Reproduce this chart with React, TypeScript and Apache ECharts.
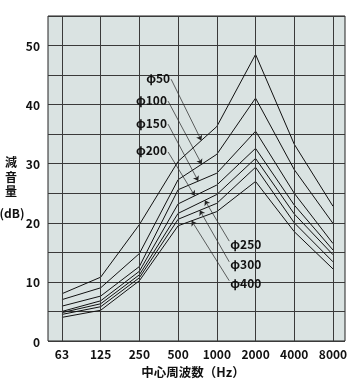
import React, { useEffect, useRef } from 'react';
import * as echarts from 'echarts';

const FREQS = ['63', '125', '250', '500', '1000', '2000', '4000', '8000'];
const DIAMETERS = ['φ50', 'φ100', 'φ150', 'φ200', 'φ250', 'φ300', 'φ400'];
const PHI50 = [8.0, 10.8, 19.7, 30.4, 36.3, 48.5, 33.3, 22.8];
const PHI100 = [7.0, 9.0, 14.8, 27.3, 31.6, 41.1, 29.0, 19.9];
const PHI150 = [5.9, 7.6, 12.6, 25.6, 28.4, 35.5, 25.0, 16.5];
const PHI200 = [5.0, 6.8, 11.8, 23.2, 26.4, 32.6, 23.0, 15.4];
const PHI250 = [4.8, 6.3, 11.2, 21.6, 24.8, 30.9, 21.5, 14.6];
const PHI300 = [4.5, 5.8, 10.7, 20.6, 23.3, 29.4, 20.0, 13.4];
const PHI400 = [4.0, 5.2, 10.2, 19.5, 21.9, 27.0, 18.5, 12.2];
const SERIES_VALUES = [PHI50, PHI100, PHI150, PHI200, PHI250, PHI300, PHI400];

// annotation leaders: start point (frequency index, dB) and target frequency index on the curve
const LEADER_START_X = [2.82, 2.74, 2.74, 2.74, 4.32, 4.32, 4.32];
const LEADER_START_Y = [44.3, 40.6, 36.7, 32.0, 16.9, 13.4, 10.2];
const LEADER_TARGET_X = [3.6, 3.61, 3.52, 3.43, 3.69, 3.56, 3.35];
const LABEL_SIDE = ['left', 'left', 'left', 'left', 'right', 'right', 'right'];

const Y_NAME_CHARS = ['減', '音', '量'];
const FONT = '"Noto Sans CJK JP", "Noto Sans", sans-serif';
const NAME_FONT = '"DejaVu Sans", "Noto Sans CJK JP", sans-serif';

function interp(values: number[], x: number): number {
  const i = Math.floor(x);
  const f = x - i;
  return values[i] + (values[i + 1] - values[i]) * f;
}

export default function App() {
  const ref = useRef<HTMLDivElement>(null);
  useEffect(() => {
    if (!ref.current) return;
    const chart = echarts.init(ref.current, null, { renderer: 'svg' });
    const series: any[] = SERIES_VALUES.map((vals, i) => ({
      type: 'line',
      name: DIAMETERS[i],
      data: vals.map((v, j) => [j, v]),
      symbol: 'none',
      lineStyle: { color: '#111', width: 1 },
      z: 3,
      markLine: {
        silent: true,
        symbol: ['none', 'arrow'],
        symbolSize: 5,
        label: { show: false },
        lineStyle: { color: '#222', width: 0.7, type: 'solid' },
        data: [
          [
            { coord: [LEADER_START_X[i], LEADER_START_Y[i]] },
            { coord: [LEADER_TARGET_X[i], interp(vals, LEADER_TARGET_X[i])] },
          ],
        ],
      },
    }));
    series.push({
      type: 'line',
      data: [],
      z: 1,
      markLine: {
        silent: true,
        symbol: 'none',
        label: { show: false },
        lineStyle: { color: '#3a3a3a', width: 1, type: 'solid' },
        data: FREQS.map((_, i) => ({ xAxis: i })),
      },
    });
    const option: any = {
      animation: false,
      grid: {
        left: 48, top: 16, right: 13, bottom: 39, show: true,
        backgroundColor: '#dae3e2', borderColor: '#222', borderWidth: 1,
      },
      xAxis: {
        type: 'value', min: -0.36, max: 7.31,
        axisLine: { show: false }, axisTick: { show: false }, splitLine: { show: false },
        axisLabel: {
          customValues: FREQS.map((_, i) => i),
          formatter: (v: number) => FREQS[Math.round(v)] ?? '',
          color: '#111', fontSize: 12, fontWeight: 'bold', fontFamily: FONT, margin: 6,
        },
      },
      yAxis: {
        type: 'value', min: 0, max: 55, interval: 5,
        axisLine: { show: false }, axisTick: { show: false },
        splitLine: { lineStyle: { color: '#3a3a3a', width: 1 } },
        axisLabel: {
          formatter: (v: number) => (v % 10 === 0 ? String(v) : ''),
          color: '#111', fontSize: 12, fontWeight: 'bold', fontFamily: FONT, margin: 8,
        },
      },
      series,
    };
    chart.setOption(option);

    const texts: any[] = DIAMETERS.map((name, i) => {
      const p = chart.convertToPixel({ seriesIndex: 0 }, [LEADER_START_X[i], LEADER_START_Y[i]]) as number[];
      const left = LABEL_SIDE[i] === 'left';
      return {
        type: 'text',
        x: left ? p[0] - 1 : p[0] + 1,
        y: left ? p[1] - 2 : p[1] + 2,
        z: 10,
        style: {
          text: name, fill: '#111', font: `bold 12px ${FONT}`,
          textAlign: left ? 'right' : 'left', textVerticalAlign: 'middle',
        },
      };
    });
    Y_NAME_CHARS.forEach((ch, i) => {
      texts.push({
        type: 'text', x: 11, y: 163 + i * 14.5, z: 10,
        style: { text: ch, fill: '#111', font: `bold 12px ${NAME_FONT}`, lineHeight: 12, textAlign: 'center', textVerticalAlign: 'middle' },
      });
    });
    texts.push(
      {
        type: 'text', x: 12, y: 212, z: 10,
        style: { text: '(dB)', fill: '#111', font: `bold 12px ${FONT}`, textAlign: 'center', textVerticalAlign: 'middle' },
      },
      {
        type: 'text', x: 193, y: 371, z: 10,
        style: { text: '中心周波数（Hz）', fill: '#111', font: `bold 12.5px ${FONT}`, textAlign: 'center', textVerticalAlign: 'middle' },
      }
    );
    chart.setOption({ graphic: texts });
    return () => chart.dispose();
  }, []);
  return <div ref={ref} style={{ position: 'fixed', left: 0, top: 0, width: 358, height: 380 }} />;
}
